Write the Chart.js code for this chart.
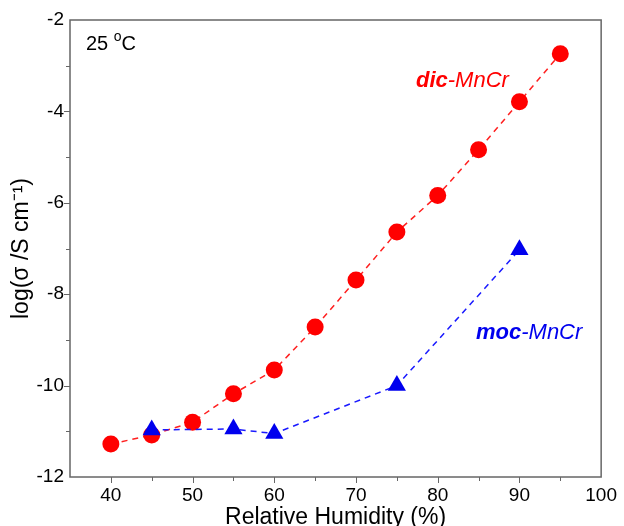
<!DOCTYPE html>
<html>
<head>
<meta charset="utf-8">
<script src="https://cdn.jsdelivr.net/npm/chart.js@4"></script>
<style>
html,body{margin:0;padding:0;background:#fff;}
#wrap{width:624px;height:526px;}
</style>
</head>
<body>
<div id="wrap"><canvas id="c" width="624" height="526"></canvas></div>
<script>
const dicHumidity = [40, 45, 50, 55, 60, 65, 70, 75, 80, 85, 90, 95];
const dicLogSigma = [-11.28, -11.08, -10.8, -10.18, -9.66, -8.72, -7.69, -6.64, -5.84, -4.84, -3.79, -2.74];
const mocHumidity = [45, 55, 60, 75, 90];
const mocLogSigma = [-10.97, -10.95, -11.05, -10.0, -7.03];
const xTickLabels = [40, 50, 60, 70, 80, 90, 100];
const yTickLabels = [-2, -4, -6, -8, -10, -12];

const FONT = '"Liberation Sans", Arial, sans-serif';
const AXIS = '#666';

const frame = {
  id: 'frame',
  afterDatasetsDraw(chart) {
    const {ctx, chartArea: a, scales: {x, y}} = chart;
    ctx.save();
    ctx.strokeStyle = AXIS;
    ctx.lineWidth = 1.5;
    ctx.strokeRect(a.left, a.top, a.right - a.left, a.bottom - a.top);
    ctx.lineWidth = 1;
    ctx.beginPath();
    for (let v = 40; v <= 95; v += 5) {
      const px = Math.round(x.getPixelForValue(v)) + 0.5;
      const len = (v % 10 === 0) ? 6 : 4;
      ctx.moveTo(px, a.bottom); ctx.lineTo(px, a.bottom + len);
    }
    for (let v = -11; v <= -3; v += 1) {
      const py = Math.round(y.getPixelForValue(v)) + 0.5;
      const len = (v % 2 === 0) ? 6 : 4;
      ctx.moveTo(a.left, py); ctx.lineTo(a.left - len, py);
    }
    ctx.stroke();
    // annotations
    ctx.fillStyle = '#000';
    ctx.textBaseline = 'alphabetic';
    ctx.font = '20px ' + FONT;
    ctx.fillText('25 ', 86, 50);
    let w = ctx.measureText('25 ').width;
    ctx.font = '14px ' + FONT;
    ctx.fillText('o', 86 + w, 41);
    let w2 = ctx.measureText('o').width;
    ctx.font = '20px ' + FONT;
    ctx.fillText('C', 86 + w + w2, 50);

    function label(bold, rest, color, xx, yy) {
      ctx.fillStyle = color;
      ctx.font = 'italic bold 22px ' + FONT;
      ctx.fillText(bold, xx, yy);
      const bw = ctx.measureText(bold).width;
      ctx.font = 'italic 22px ' + FONT;
      ctx.fillText(rest, xx + bw, yy);
    }
    label('dic', '-MnCr', '#ff0000', 416, 87);
    label('moc', '-MnCr', '#0000ee', 476, 339);
    ctx.restore();
  }
};

new Chart(document.getElementById('c'), {
  type: 'scatter',
  data: {
    datasets: [
      {
        label: 'dic-MnCr',
        order: 2,
        data: dicHumidity.map((h, i) => ({x: h, y: dicLogSigma[i]})),
        showLine: true,
        borderColor: '#ff2020',
        borderWidth: 1.5,
        borderDash: [6, 5],
        pointStyle: 'circle',
        pointRadius: 8.5,
        pointHoverRadius: 8.5,
        pointBackgroundColor: '#ff0000',
        pointBorderColor: '#ff0000',
        pointBorderWidth: 0
      },
      {
        label: 'moc-MnCr',
        order: 1,
        data: mocHumidity.map((h, i) => ({x: h, y: mocLogSigma[i]})),
        showLine: true,
        borderColor: '#1a1aff',
        borderWidth: 1.5,
        borderDash: [6, 5],
        pointStyle: 'triangle',
        pointRadius: 10.5,
        pointHoverRadius: 10.5,
        pointBackgroundColor: '#0000ee',
        pointBorderColor: '#0000ee',
        pointBorderWidth: 0
      }
    ]
  },
  options: {
    responsive: false,
    animation: false,
    devicePixelRatio: 1,
    layout: {padding: {top: 20, right: 18, left: 0, bottom: 0}},
    plugins: {legend: {display: false}, tooltip: {enabled: false}},
    scales: {
      x: {
        type: 'linear',
        min: 35, max: 100,
        afterFit(s) { s.height = 49; },
        afterBuildTicks(s) { s.ticks = xTickLabels.map(v => ({value: v})); },
        grid: {display: false, drawTicks: false},
        border: {display: false},
        ticks: {
          padding: 7,
          color: '#000',
          font: {family: FONT, size: 19},
          maxRotation: 0,
          autoSkip: false
        },
        title: {
          display: true,
          text: 'Relative Humidity (%)',
          color: '#000',
          font: {family: FONT, size: 23},
          padding: {top: 0, bottom: -5}
        }
      },
      y: {
        type: 'linear',
        min: -12, max: -2,
        afterFit(s) { s.width = 70; },
        afterBuildTicks(s) { s.ticks = yTickLabels.map(v => ({value: v})); },
        grid: {display: false, drawTicks: false},
        border: {display: false},
        ticks: {
          padding: 6,
          color: '#000',
          font: {family: FONT, size: 19},
          autoSkip: false
        },
        title: {
          display: true,
          text: 'log(σ /S cm⁻¹)',
          color: '#000',
          font: {family: FONT, size: 23},
          padding: {top: 8, bottom: 0}
        }
      }
    }
  },
  plugins: [frame]
});
</script>
</body>
</html>
